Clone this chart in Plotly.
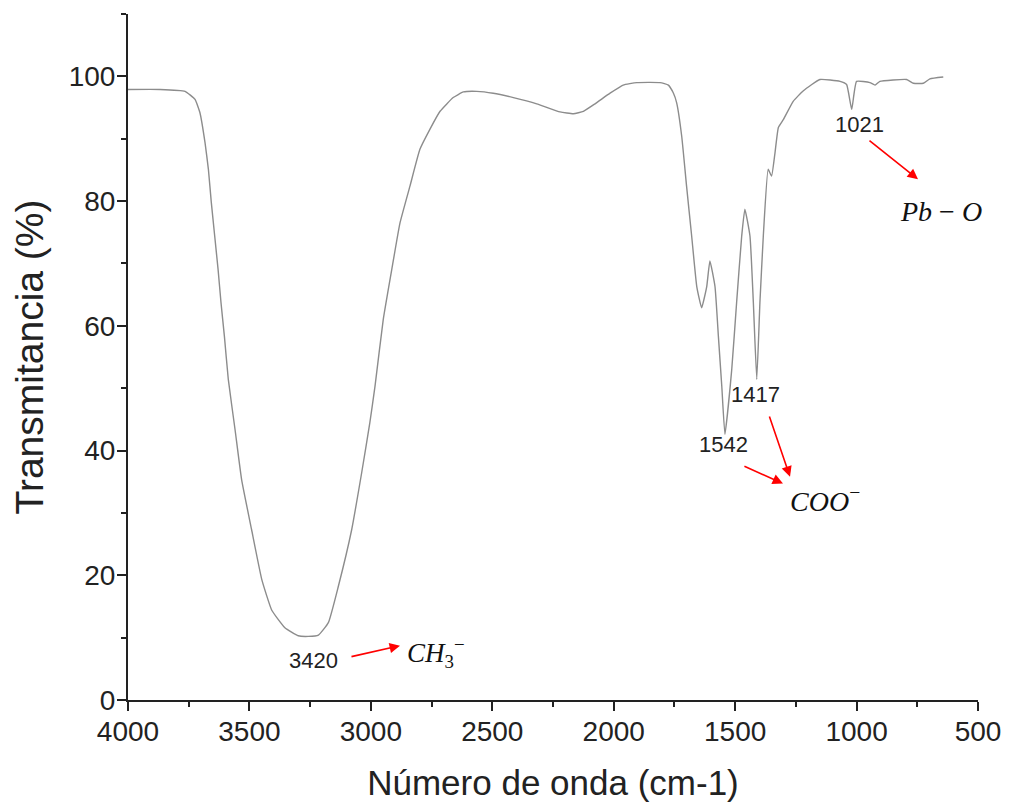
import plotly.graph_objects as go

wavenumber = [4000, 3868, 3765, 3724, 3704, 3683, 3669, 3657, 3643, 3629, 3617, 3603,
              3587, 3559, 3532, 3491, 3449, 3408, 3354, 3299, 3258, 3216, 3175, 3134,
              3079, 3038, 3004, 2983, 2949, 2914, 2880, 2839, 2798, 2757, 2715, 2661,
              2619, 2564, 2496, 2413, 2317, 2221, 2166, 2125, 2077, 2015, 1961, 1905,
              1809, 1775, 1754, 1741, 1720, 1700, 1679, 1658, 1638, 1617, 1604, 1583,
              1569, 1555, 1542, 1514, 1494, 1473, 1460, 1439, 1425, 1411, 1398, 1384,
              1364, 1350, 1336, 1322, 1301, 1261, 1219, 1151, 1068, 1041, 1020, 1000,
              945, 924, 904, 794, 766, 725, 698, 643]
transmittance = [97.9, 97.9, 97.6, 96.3, 94.2, 89.4, 85.1, 79.8, 74.4, 69.0, 63.7, 58.3,
                 51.4, 43.3, 35.3, 27.3, 19.3, 14.4, 11.6, 10.3, 10.2, 10.4, 12.4, 18.2,
                 27.3, 36.4, 44.5, 50.3, 61.0, 69.0, 76.5, 82.4, 88.3, 91.5, 94.4, 96.6,
                 97.5, 97.6, 97.3, 96.6, 95.6, 94.3, 94.0, 94.4, 95.6, 97.3, 98.6, 99.0,
                 99.0, 98.6, 97.3, 95.8, 90.4, 82.4, 74.4, 66.3, 62.9, 66.3, 70.4, 66.3,
                 58.3, 50.3, 42.6, 53.0, 63.7, 74.4, 78.7, 74.4, 63.7, 51.4, 63.7, 74.4,
                 85.1, 84.0, 87.7, 91.8, 93.1, 96.0, 97.7, 99.5, 99.2, 98.7, 94.7, 99.2,
                 99.0, 98.6, 99.2, 99.5, 98.9, 98.9, 99.6, 99.9]

x_ticks = [4000, 3500, 3000, 2500, 2000, 1500, 1000, 500]
y_ticks = [0, 20, 40, 60, 80, 100]

peak_labels = ["3420", "1021", "1417", "1542"]
peak_pos = [(3238, 6.4), (986, 92.3), (1418, 49.0), (1550, 40.9)]

# arrows: (head_x, head_y, tail_x, tail_y)
arrows = [(2880, 8.7, 3086, 6.9), (747, 83.5, 953, 89.9),
          (1274, 35.8, 1361, 45.7), (1303, 34.7, 1468, 37.6)]

font_sans = "Arial, Liberation Sans, sans-serif"
font_serif = "Cambria Math, Liberation Serif, DejaVu Serif, serif"

fig = go.Figure()
fig.add_trace(go.Scatter(x=wavenumber, y=transmittance, mode="lines",
                         line=dict(color="#8c8c8c", width=1.4, shape="spline", smoothing=0.4),
                         showlegend=False, hoverinfo="skip"))

for lab, (px, py) in zip(peak_labels, peak_pos):
    fig.add_annotation(x=px, y=py, text=lab, showarrow=False,
                       font=dict(family=font_sans, size=22, color="#222222"))

for hx, hy, tx, ty in arrows:
    fig.add_annotation(x=hx, y=hy, ax=tx, ay=ty, axref="x", ayref="y", text="",
                       showarrow=True, arrowhead=2, arrowsize=1.3, arrowwidth=1.6,
                       arrowcolor="#ff0000")

fig.add_annotation(x=652, y=78.3, text="<i>Pb</i> − <i>O</i>", showarrow=False,
                   font=dict(family=font_serif, size=28, color="#111111"))
fig.add_annotation(x=1130, y=32.1, text="<i>COO</i><sup>−</sup>", showarrow=False,
                   font=dict(family=font_serif, size=28, color="#111111"))
fig.add_annotation(x=2730, y=7.6, text="<i>CH</i><sub>3</sub><sup>−</sup>", showarrow=False,
                   font=dict(family=font_serif, size=27, color="#111111"))

# page body has an 8px default margin; size the figure so the plot area lands in place
fig.update_layout(
    width=1001, height=794,
    margin=dict(l=120, r=31, t=6, b=102),
    paper_bgcolor="white", plot_bgcolor="white",
    font=dict(family=font_sans, color="#222222"),
)
fig.update_xaxes(range=[4000, 500], tickvals=x_ticks, ticks="outside", ticklen=9,
                 tickwidth=2, tickcolor="#222", showline=True, linewidth=2,
                 linecolor="#222", showgrid=False, zeroline=False, automargin=False,
                 tickfont=dict(size=28, family=font_sans), ticklabelstandoff=-4,
                 minor=dict(ticks="outside", ticklen=5, tickwidth=2, tickcolor="#222", dtick=250, tick0=500, showgrid=False),
                 title=dict(text="Número de onda (cm-1)", font=dict(size=35, family=font_sans), standoff=30))
fig.update_yaxes(range=[0, 110], tickvals=y_ticks, ticks="outside", ticklen=9,
                 tickwidth=2, tickcolor="#222", showline=True, linewidth=2,
                 linecolor="#222", showgrid=False, zeroline=False, automargin=False,
                 tickfont=dict(size=28, family=font_sans), ticklabelstandoff=-4,
                 minor=dict(ticks="outside", ticklen=5, tickwidth=2, tickcolor="#222", dtick=10, tick0=0, showgrid=False),
                 title=dict(text="Transmitancia (%)", font=dict(size=39, family=font_sans), standoff=14))

fig.write_html("out.html")
